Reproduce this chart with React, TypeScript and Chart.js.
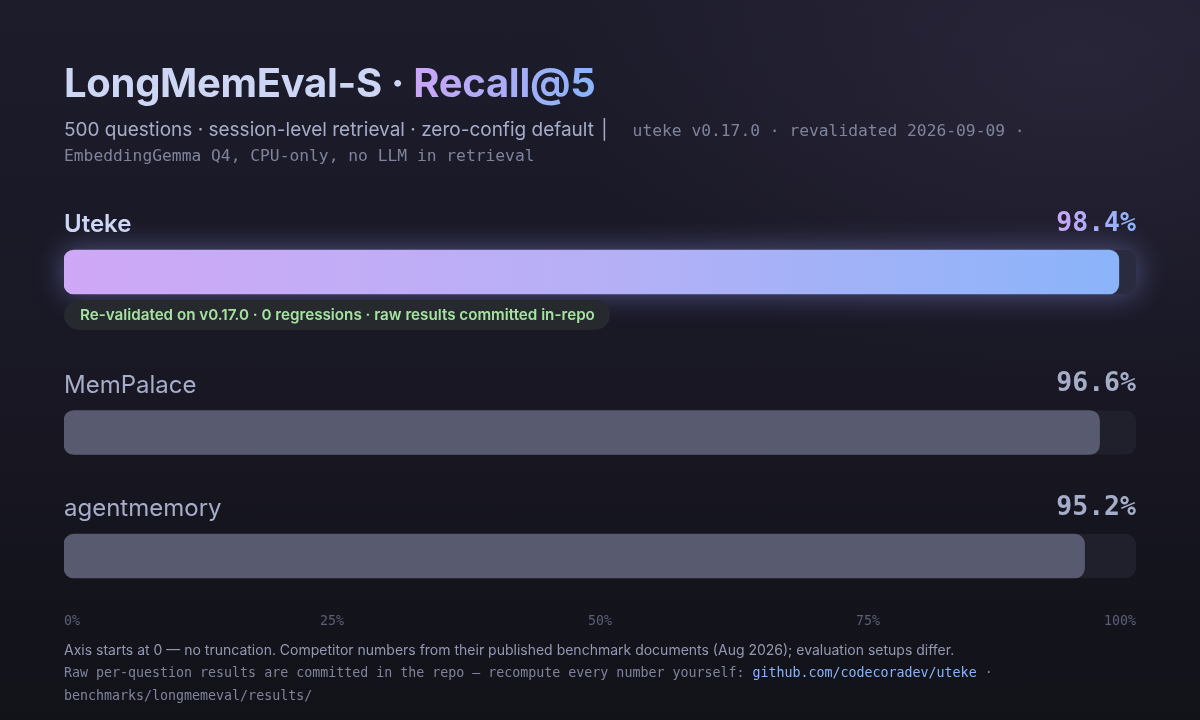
import React, { useEffect, useRef } from "react";
import { Chart, registerables, CategoryScale } from "chart.js";

Chart.register(...registerables);

// ---- data ----
const systems = ["Uteke", "MemPalace", "agentmemory"];
const recall = [98.4, 96.6, 95.2];
const axisTicks = [0, 25, 50, 75, 100];
const highlightIndex = 0;
const badgeText = "Re-validated on v0.17.0 · 0 regressions · raw results committed in-repo";

// ---- custom row scale: category scale with extra space after the first row ----
class RowScale extends CategoryScale {
  static id = "rows";
  getPixelForValue(value: any) {
    const v = typeof value === "number" ? value : (this as any).parse(value);
    if (v === null || v === undefined || isNaN(v)) return NaN;
    const o: any = this.options;
    const n = Math.max(1, this.getLabels().length);
    const edge = o.edge ?? 40;
    const lead = o.lead ?? 0;
    const step = n > 1 ? (this.bottom - this.top - 2 * edge - lead) / (n - 1) : 0;
    return this.top + edge + step * v + (v >= 1 ? lead : 0);
  }
}
Chart.register(RowScale as any);

const MONO = '"DejaVu Sans Mono", "Liberation Mono", monospace';
const SANS = 'Inter, "Noto Sans", sans-serif';

function roundRect(ctx: CanvasRenderingContext2D, x: number, y: number, w: number, h: number, r: number) {
  ctx.beginPath();
  ctx.moveTo(x + r, y);
  ctx.lineTo(x + w - r, y);
  ctx.arcTo(x + w, y, x + w, y + r, r);
  ctx.lineTo(x + w, y + h - r);
  ctx.arcTo(x + w, y + h, x + w - r, y + h, r);
  ctx.lineTo(x + r, y + h);
  ctx.arcTo(x, y + h, x, y + h - r, r);
  ctx.lineTo(x, y + r);
  ctx.arcTo(x, y, x + r, y, r);
  ctx.closePath();
}

const rowPlugin = {
  id: "rowDecor",
  beforeDatasetsDraw(chart: any) {
    const ctx: CanvasRenderingContext2D = chart.ctx;
    const x = chart.scales.x;
    const meta = chart.getDatasetMeta(0);
    const x0 = x.getPixelForValue(x.min);
    const x1 = x.getPixelForValue(x.max);
    meta.data.forEach((bar: any, i: number) => {
      const { y, height } = bar.getProps(["y", "height"], true);
      const top = y - height / 2;
      if (i === highlightIndex) {
        ctx.save();
        ctx.shadowColor = "rgba(150, 160, 250, 0.45)";
        ctx.shadowBlur = 30;
        ctx.fillStyle = "rgba(60, 62, 90, 1)";
        roundRect(ctx, x0, top, x1 - x0, height, 10);
        ctx.fill();
        ctx.restore();
      }
      ctx.save();
      ctx.fillStyle = i === highlightIndex ? "rgba(42, 43, 62, 1)" : "rgba(32, 32, 44, 1)";
      roundRect(ctx, x0, top, x1 - x0, height, 10);
      ctx.fill();
      ctx.restore();
    });
  },
  afterDatasetsDraw(chart: any) {
    const ctx: CanvasRenderingContext2D = chart.ctx;
    const area = chart.chartArea;
    const meta = chart.getDatasetMeta(0);
    meta.data.forEach((bar: any, i: number) => {
      const { y, height } = bar.getProps(["y", "height"], true);
      const top = y - height / 2;
      const bottom = y + height / 2;
      const hi = i === highlightIndex;
      ctx.save();
      // category label
      ctx.textBaseline = "middle";
      ctx.textAlign = "left";
      ctx.font = (hi ? "600 " : "400 ") + "24px " + SANS;
      ctx.fillStyle = hi ? "#cdd6f4" : "#a6adc8";
      ctx.fillText(String(chart.data.labels[i]), area.left, top - 25);
      // value label
      const txt = recall[i].toFixed(1) + "%";
      ctx.font = "700 26.5px " + MONO;
      ctx.textAlign = "right";
      const w = ctx.measureText(txt).width;
      if (hi) {
        const g = ctx.createLinearGradient(area.right - w, 0, area.right, 0);
        g.addColorStop(0, "#cba6f7");
        g.addColorStop(1, "#89b4fa");
        ctx.fillStyle = g;
      } else {
        ctx.fillStyle = "#a6adc8";
      }
      ctx.fillText(txt, area.right, top - 26);
      // badge
      if (hi) {
        ctx.font = "600 15.2px " + SANS;
        ctx.textAlign = "left";
        const bw = ctx.measureText(badgeText).width + 31;
        const by = bottom + 6;
        ctx.fillStyle = "rgba(38, 42, 47, 1)";
        roundRect(ctx, area.left, by, bw, 30, 15);
        ctx.fill();
        ctx.fillStyle = "#a6e3a1";
        ctx.fillText(badgeText, area.left + 16, by + 15.5);
      }
      ctx.restore();
    });
  },
};

function BarChart() {
  const ref = useRef<HTMLCanvasElement | null>(null);
  useEffect(() => {
    if (!ref.current) return;
    const chart = new Chart(ref.current, {
      type: "bar",
      data: {
        labels: systems,
        datasets: [
          {
            data: recall,
            barThickness: 44,
            borderRadius: 10,
            borderSkipped: false,
            backgroundColor: (c: any) => {
              if (c.dataIndex === highlightIndex) {
                const a = c.chart.chartArea;
                if (!a) return "#b4b0f5";
                const g = c.chart.ctx.createLinearGradient(a.left, 0, a.right, 0);
                g.addColorStop(0, "#cfa8f7");
                g.addColorStop(0.5, "#b6b0f6");
                g.addColorStop(1, "#89b4fa");
                return g;
              }
              return "#585b70";
            },
          },
        ],
      },
      options: {
        indexAxis: "y",
        animation: false,
        responsive: false,
        maintainAspectRatio: false,
        events: [],
        layout: { padding: { top: 232, left: 64, right: 64, bottom: 72 } },
        plugins: { legend: { display: false }, tooltip: { enabled: false } },
        scales: {
          y: { type: "rows" as any, display: false, edge: 40, lead: 37 } as any,
          x: {
            type: "linear",
            min: axisTicks[0],
            max: axisTicks[axisTicks.length - 1],
            border: { display: false },
            grid: { display: false, drawTicks: false },
            afterBuildTicks: (s: any) => {
              s.ticks = axisTicks.map((v) => ({ value: v }));
            },
            ticks: {
              align: "inner",
              padding: 18,
              color: "#5c5f77",
              font: { family: MONO, size: 13.3 },
              callback: (v: any) => v + "%",
            },
          },
        },
      },
      plugins: [rowPlugin],
    } as any);
    return () => chart.destroy();
  }, []);
  return <canvas ref={ref} width={1200} height={720} style={{ position: "absolute", left: 0, top: 0, width: 1200, height: 720 }} />;
}

const gradText: React.CSSProperties = {
  background: "linear-gradient(90deg, #cba6f7, #89b4fa)",
  WebkitBackgroundClip: "text",
  backgroundClip: "text",
  color: "transparent",
};

export default function App() {
  return (
    <div
      style={{
        position: "fixed",
        left: 0,
        top: 0,
        width: 1200,
        height: 720,
        overflow: "hidden",
        background:
          "radial-gradient(ellipse 520px 320px at 1080px 60px, rgba(48,44,66,0.55), rgba(48,44,66,0) 100%), linear-gradient(180deg, #1d1c2b 0%, #191825 45%, #121219 100%)",
      }}
    >
      <BarChart />
      <div
        style={{
          position: "absolute",
          left: 64,
          top: 59,
          font: "700 40px " + SANS,
          lineHeight: "48px",
          letterSpacing: "-0.3px",
          color: "#cdd6f4",
          whiteSpace: "nowrap",
        }}
      >
        LongMemEval-S · <span style={gradText}>Recall@5</span>
      </div>
      <div
        style={{
          position: "absolute",
          left: 64,
          top: 118,
          width: 1100,
          font: "400 19px " + SANS,
          lineHeight: "24px",
          color: "#a6adc8",
          whiteSpace: "nowrap",
        }}
      >
        500 questions · session-level retrieval · zero-config default{" "}
        <span style={{ marginLeft: 2 }}>|</span>{" "}
        <span style={{ fontFamily: MONO, fontSize: 16.3, color: "#7f849c" }}>
          {"\u00a0\u00a0"}uteke v0.17.0 · revalidated 2026-09-09 ·<br />
          EmbeddingGemma Q4, CPU-only, no LLM in retrieval
        </span>
      </div>
      <div
        style={{
          position: "absolute",
          left: 64,
          top: 639,
          width: 1100,
          font: "400 14px " + SANS,
          lineHeight: "22px",
          color: "#9399b2",
          whiteSpace: "nowrap",
        }}
      >
        Axis starts at 0 — no truncation. Competitor numbers from their published benchmark documents (Aug 2026); evaluation setups differ.
        <br />
        <span style={{ fontFamily: MONO, fontSize: 13.3, color: "#7f849c" }}>
          Raw per-question results are committed in the repo — recompute every number yourself:{" "}
          <span style={{ color: "#89b4fa" }}>github.com/codecoradev/uteke</span> ·<br />
          benchmarks/longmemeval/results/
        </span>
      </div>
    </div>
  );
}
